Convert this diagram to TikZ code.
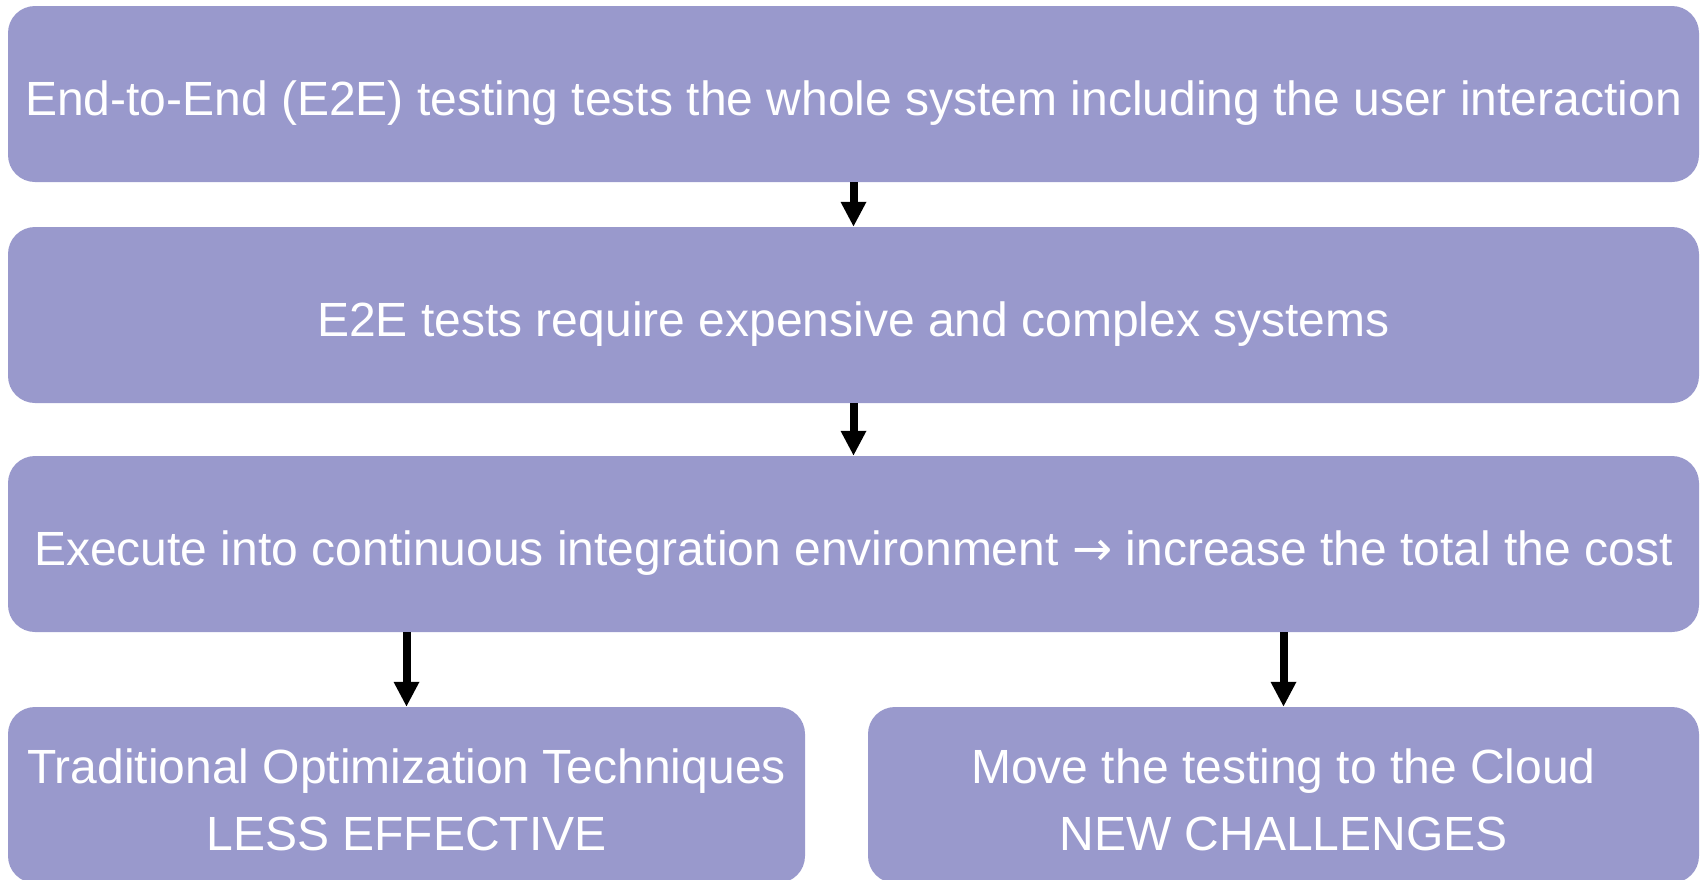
\documentclass[tikz,border=0pt]{standalone}
\usepackage{fontspec}
\setmainfont{Liberation Sans}
\newfontfamily\arrowfont{DejaVu Sans}
\usepackage{xcolor}
\usetikzlibrary{arrows.meta, positioning}
\definecolor{boxLilac}{RGB}{153,153,204}
\tikzset{
    flowBox/.style={rectangle, rounded corners=27pt, fill=boxLilac, draw=none, text=white, inner sep=0pt, align=center,
        font=\fontsize{48}{67}\selectfont, text height=43pt, text depth=0pt},
    twoLines/.style={text height=110pt, text depth=0pt},
    flowArrow/.style={-{Triangle[width=24pt, length=25pt]}, line width=8pt, black}
}

\begin{document}
\begin{tikzpicture}[x=1pt, y=1pt]
    \useasboundingbox (0,0) rectangle (1700,-879);
    \node[flowBox, minimum width=1691pt, minimum height=176pt] (e2e) at (853.5,-94) {End-to-End (E2E) testing tests the whole system including the user interaction};
    \node[flowBox, minimum width=1691pt, minimum height=176pt] (cost) at (853.5,-315) {E2E tests require expensive and complex systems};
    \node[flowBox, minimum width=1691pt, minimum height=176pt] (ci) at (853.5,-544) {Execute into continuous integration environment {\arrowfont →} increase the total the cost};
    \node[flowBox, twoLines, minimum width=797pt, minimum height=176pt] (trad) at (406.5,-795) {Traditional Optimization Techniques\\LESS EFFECTIVE};
    \node[flowBox, twoLines, minimum width=831pt, minimum height=176pt] (cloud) at (1283.5,-795) {Move the testing to the Cloud\\NEW CHALLENGES};
    % connectors
    \draw[flowArrow] (e2e.south) -- (cost.north);
    \draw[flowArrow] (cost.south) -- (ci.north);
    \draw[flowArrow] (ci.south -| trad.north) -- (trad.north);
    \draw[flowArrow] (ci.south -| cloud.north) -- (cloud.north);
\end{tikzpicture}
\end{document}
